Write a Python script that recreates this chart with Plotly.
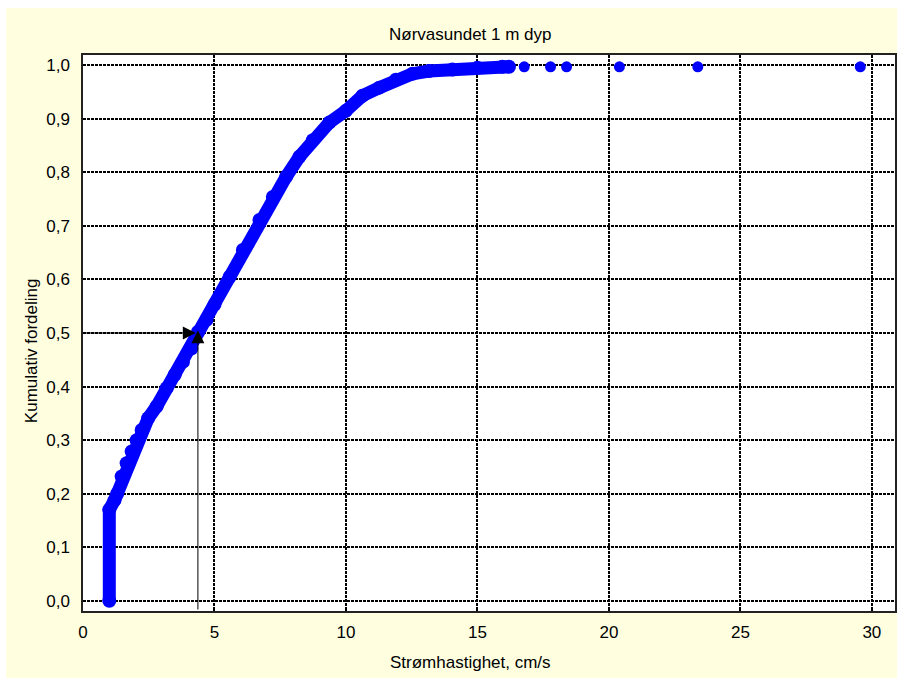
import plotly.graph_objects as go

# Cumulative distribution
speed = [1.0, 1.0, 1.2, 1.3, 1.47, 1.66, 1.85, 2.04, 2.23, 2.48, 2.8, 3.18, 3.49, 3.8,
         4.12, 4.37, 4.69, 5.0, 5.58, 6.08, 6.71, 7.22, 7.73, 8.23, 8.74, 9.37, 10.0,
         10.63, 11.27, 11.9, 12.53, 13.16, 14.05, 15.0, 15.95, 16.2]
cumulative = [0.0, 0.17, 0.188, 0.2, 0.232, 0.257, 0.279, 0.30, 0.319, 0.341, 0.363, 0.397,
              0.422, 0.446, 0.471, 0.502, 0.524, 0.553, 0.605, 0.655, 0.711, 0.754, 0.792,
              0.829, 0.86, 0.893, 0.915, 0.943, 0.958, 0.973, 0.984, 0.989, 0.992, 0.995,
              0.997, 0.997]
outlier_speed = [16.78, 17.78, 18.39, 20.40, 23.38, 29.56]
outlier_cum = [0.997, 0.997, 0.997, 0.997, 0.997, 0.997]

median_speed = 4.37
median_level = 0.5

x_ticks = [0, 5, 10, 15, 20, 25, 30]
y_ticks = [0.0, 0.1, 0.2, 0.3, 0.4, 0.5, 0.6, 0.7, 0.8, 0.9, 1.0]

title_text = "Nørvasundet 1 m dyp"
x_title = "Strømhastighet, cm/s"
y_title = "Kumulativ fordeling"

FONT = "Liberation Sans, Arial, sans-serif"
BLUE = "#0000FF"
CREAM = "#FFFFE0"
FS = 17

fig = go.Figure()
fig.add_trace(go.Scatter(
    x=speed, y=cumulative, mode="lines+markers",
    line=dict(color=BLUE, width=13),
    marker=dict(color=BLUE, size=14),
    showlegend=False, hoverinfo="skip"))
fig.add_trace(go.Scatter(
    x=outlier_speed, y=outlier_cum, mode="markers",
    marker=dict(color=BLUE, size=11),
    showlegend=False, hoverinfo="skip"))

y_lo, y_hi = -0.019, 1.019

# arrows marking the median
fig.add_annotation(x=median_speed - 0.08, y=median_level, ax=0, ay=median_level,
                   xref="x", yref="y", axref="x", ayref="y", text="",
                   showarrow=True, arrowhead=2, arrowsize=2.6, arrowwidth=1,
                   arrowcolor="black", standoff=0)
fig.add_annotation(x=median_speed, y=median_level + 0.005, ax=median_speed, ay=y_lo,
                   xref="x", yref="y", axref="x", ayref="y", text="",
                   showarrow=True, arrowhead=2, arrowsize=2.6, arrowwidth=1,
                   arrowcolor="black", standoff=0)

# titles
fig.add_annotation(text=title_text, xref="paper", yref="paper",
                   x=(471 - 83) / 814, y=(611 - 34) / 556,
                   showarrow=False, font=dict(family=FONT, size=FS, color="black"),
                   xanchor="center", yanchor="middle")
fig.add_annotation(text=x_title, xref="paper", yref="paper",
                   x=(471 - 83) / 814, y=(611 - 662) / 556,
                   showarrow=False, font=dict(family=FONT, size=FS, color="black"),
                   xanchor="center", yanchor="middle")
fig.add_annotation(text=y_title, xref="paper", yref="paper",
                   x=(31 - 83) / 814, y=(611 - 351) / 556, textangle=-90,
                   showarrow=False, font=dict(family=FONT, size=FS, color="black"),
                   xanchor="center", yanchor="middle")

# white frame strips outside the cream panel
fig.add_shape(type="rect", xref="paper", yref="paper",
              x0=-0.2, x1=1.2, y0=(611 - 8) / 556, y1=1.3,
              fillcolor="white", line=dict(width=0))
fig.add_shape(type="rect", xref="paper", yref="paper",
              x0=-0.2, x1=(6 - 83) / 814, y0=-0.3, y1=1.3,
              fillcolor="white", line=dict(width=0))

axis_common = dict(
    showgrid=True, gridcolor="black", gridwidth=2, griddash="3px,1px",
    showline=True, linecolor="#222222", linewidth=1.5, mirror=True,
    ticks="inside", ticklen=3, tickwidth=2, tickcolor="black",
    tickfont=dict(family=FONT, size=FS, color="black"),
    zeroline=False,
)

fig.update_xaxes(range=[0, 30.88], tickvals=x_ticks, ticktext=[str(v) for v in x_ticks],
                 ticklabelstandoff=5, **axis_common)
fig.update_yaxes(range=[y_lo, y_hi], tickvals=y_ticks, tickformat=".1f",
                 ticklabelstandoff=8, **axis_common)

fig.update_layout(
    width=897, height=678,
    margin=dict(l=83, r=0, t=55, b=67),
    paper_bgcolor=CREAM, plot_bgcolor="white",
    separators=", ",
    font=dict(family=FONT, size=FS, color="black"),
    showlegend=False,
)

fig.write_html("out.html")
